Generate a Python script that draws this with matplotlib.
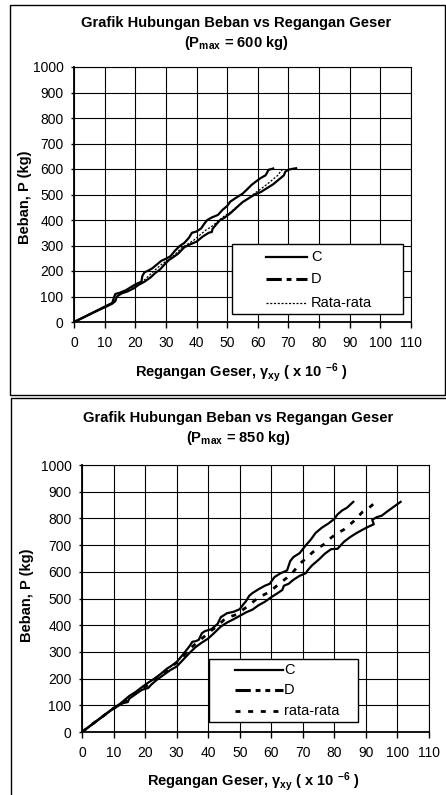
"""Grafik hubungan beban vs regangan geser untuk dua beban maksimum."""

import matplotlib
matplotlib.use("Agg")
import matplotlib.pyplot as plt
from matplotlib.patches import Rectangle

# Data: shear strain (x 10^-6) and load P (kg)

# Panel 1, Pmax = 600 kg
strain_c_600 = [0, 3, 6, 9, 11, 12.5, 13, 13.5, 15, 17, 19, 20.5, 22, 22.3,
                23, 24, 25.5, 27, 28.5, 30, 31.5, 33, 34.5, 36, 37.5, 38.5,
                40, 41.5, 42.5, 43.5, 45, 47, 48.5, 50, 51, 53, 55, 56.5, 58,
                59.5, 61, 62.5, 63, 63.5, 64.5, 65]
load_c_600 = [0, 18, 36, 54, 66, 75, 95, 110, 115, 125, 140, 150, 158, 180,
              195, 200, 210, 225, 240, 248, 258, 280, 298, 310, 330, 350,
              355, 367, 385, 400, 410, 420, 440, 455, 472, 488, 503, 520, 538,
              552, 565, 575, 585, 597, 600, 602]
strain_d_600 = [0, 3, 6, 9, 11, 12.5, 13.5, 14, 15.5, 17.5, 19.5, 21, 23, 25,
                26.5, 28, 29.5, 31, 32.5, 34, 36, 38, 40, 42, 44, 45, 45.2,
                47.5, 49, 51, 53, 55, 57, 59, 61, 63, 65, 66.5, 67.5, 68.5,
                69, 70, 71, 72.5]
load_d_600 = [0, 17, 35, 52, 63, 72, 82, 100, 112, 120, 132, 145, 158, 175,
              192, 205, 225, 243, 255, 268, 293, 305, 315, 335, 350, 353, 365,
              398, 408, 426, 448, 470, 485, 500, 510, 525, 540, 555, 565, 575,
              590, 597, 600, 603]
strain_avg_600 = [0, 3, 6, 9, 11, 12.5, 13.5, 15, 17, 19.5, 21, 23, 25, 27,
                  29, 31, 33, 35, 37, 39, 41, 43, 45, 47, 49, 51, 53, 55, 57,
                  59, 61, 63, 65, 66.5, 67.5, 68.5]
load_avg_600 = [0, 17, 35, 53, 65, 74, 90, 112, 122, 140, 150, 165, 188, 210,
                230, 245, 265, 290, 305, 320, 340, 360, 375, 395, 415, 430,
                450, 468, 485, 505, 522, 540, 560, 575, 592, 602]

# Panel 2, Pmax = 850 kg
strain_c_850 = [0, 5, 10, 12, 14, 15, 17, 19, 21, 23, 25, 27, 28, 30, 32, 34,
                35, 36, 37, 38, 39, 41, 43, 44, 46, 48, 50, 51, 52, 53, 54,
                56, 58, 59.5, 61, 63, 65, 66, 67, 69, 71, 72.5, 74, 76, 78,
                80, 81, 82.5, 84, 86]
load_c_850 = [0, 45, 90, 105, 125, 135, 150, 168, 185, 200, 218, 238, 245,
              262, 290, 320, 338, 340, 345, 370, 378, 385, 405, 430, 445, 450,
              460, 476, 490, 510, 520, 535, 548, 555, 580, 595, 605, 640, 655,
              670, 700, 720, 745, 765, 780, 798, 815, 830, 840, 862]
strain_d_850 = [0, 5, 10, 13, 14.5, 15, 17, 19, 21, 22, 24, 26, 28, 30, 32,
                34, 36, 38, 40, 42, 44, 46, 48, 50, 52, 54, 56, 58, 60, 62,
                63.5, 64, 65.5, 67, 69, 71, 71.5, 73, 75, 77, 79, 81, 83, 85,
                87, 89, 91, 92.5, 92, 93.5, 95, 97, 99, 101]
load_d_850 = [0, 44, 88, 108, 112, 125, 142, 158, 165, 178, 198, 215, 232,
              245, 270, 295, 318, 335, 350, 372, 395, 410, 422, 435, 448, 458,
              475, 488, 505, 520, 532, 548, 555, 570, 585, 595, 605, 625, 645,
              668, 685, 686, 712, 730, 745, 758, 770, 778, 795, 805, 810, 828,
              845, 862]
strain_avg_850 = [0, 5, 10, 13, 15, 17, 19, 21, 23, 25, 27, 29, 31, 33, 35,
                  37, 39, 41, 43, 45, 47, 49, 51, 53, 55, 57, 59, 61, 63, 65,
                  67, 69, 71, 73, 75, 77, 79, 81, 83, 86, 89, 91, 93]
load_avg_850 = [0, 45, 88, 110, 128, 145, 160, 178, 198, 215, 232, 250, 270,
                295, 320, 340, 360, 380, 398, 420, 432, 440, 458, 475, 495,
                510, 522, 540, 560, 578, 600, 630, 650, 672, 690, 705, 728,
                745, 758, 788, 825, 840, 860]

x_ticks = list(range(0, 111, 10))
y_ticks = list(range(0, 1001, 100))
title = "Grafik Hubungan Beban vs Regangan Geser"
ylabel = "Beban, P (kg)"
xlabel = r"Regangan Geser, $\mathbf{\gamma_{xy}}$ ( x 10 $^{\mathbf{-6}}$ )"

# Fonts: Arial look-alike, also for the math parts

plt.rcParams["font.family"] = "Liberation Sans"
plt.rcParams["mathtext.fontset"] = "custom"
plt.rcParams["mathtext.rm"] = "Liberation Sans"
plt.rcParams["mathtext.it"] = "Liberation Sans:italic"
plt.rcParams["mathtext.bf"] = "Liberation Sans:bold"
plt.rcParams["lines.scale_dashes"] = False

W, H = 446, 795


def fx(px):
    """Figure fraction from a pixel column."""
    return px / W


def fy(py):
    """Figure fraction from a pixel row (top = 0)."""
    return 1 - py / H


def draw_panel(fig, box, rect, texts, series, legend):
    """Draw one framed chart panel."""
    fig.add_artist(Rectangle((fx(box[0]), fy(box[3])),
                             fx(box[2] - box[0]), (box[3] - box[1]) / H,
                             transform=fig.transFigure, fill=False,
                             edgecolor="black", linewidth=1.0))
    ax = fig.add_axes(rect)
    for x, y, style in series:
        ax.plot(x, y, color="black", **style)

    ax.set_xlim(0, 110)
    ax.set_ylim(0, 1000)
    ax.set_xticks(x_ticks)
    ax.set_yticks(y_ticks)
    ax.grid(True, color="black", linewidth=0.8)
    ax.set_axisbelow(True)
    for side in ("top", "right"):
        ax.spines[side].set_linewidth(0.8)
    for side in ("left", "bottom"):
        ax.spines[side].set_linewidth(1.3)
    ax.tick_params(axis="x", direction="out", length=4, width=1,
                   labelsize=10, pad=6)
    ax.tick_params(axis="y", direction="out", length=2.5, width=1,
                   labelsize=10, pad=5)

    # Legend box, drawn like the spreadsheet one
    (x0, y0, x1, y1), hx0, hx1, tx, rows = legend
    ax.add_patch(Rectangle((x0, y0), x1 - x0, y1 - y0,
                           transform=ax.transAxes, facecolor="white",
                           edgecolor="black", linewidth=1.0, zorder=5))
    for ry, (label, style) in rows:
        ax.plot([hx0, hx1], [ry, ry], transform=ax.transAxes,
                color="black", zorder=6, clip_on=False, **style)
        ax.text(tx, ry, label, transform=ax.transAxes, fontsize=10.5,
                va="center", ha="left", zorder=6)

    # Titles and axis labels
    (tx1, ty1), (tx2, ty2), sub, (lx, ly), (yx, yy) = texts
    fig.text(fx(tx1), fy(ty1), title, ha="center", va="center",
             fontsize=10.6, fontweight="bold")
    fig.text(fx(tx2), fy(ty2), sub, ha="center", va="center",
             fontsize=10.6, fontweight="bold")
    fig.text(fx(lx), fy(ly), xlabel, ha="center", va="center",
             fontsize=10.5, fontweight="bold")
    fig.text(fx(yx), fy(yy), ylabel, ha="center", va="center",
             fontsize=10.5, fontweight="bold", rotation=90)
    return ax


fig = plt.figure(figsize=(W / 100, H / 100), dpi=100)

solid = dict(linestyle="-", linewidth=1.6)
dash_dot = dict(linestyle=(0, (11, 3.5, 3.5, 3.5)), linewidth=2.2)
dash_dot_dot = dict(linestyle=(0, (11, 3.5, 3.5, 3.5, 3.5, 3.5)),
                    linewidth=2.2)
dotted = dict(linestyle=(0, (1.5, 1.2)), linewidth=0.9)
dashed = dict(linestyle=(0, (3.6, 5.5)), linewidth=2.0)

# Panel 1 (Pmax = 600 kg)
draw_panel(
    fig,
    box=(10, 5, 445, 395),
    rect=[fx(74), fy(322), fx(337), 255 / H],
    texts=((236, 23), (236, 43), r"(P$_{\mathbf{max}}$ = 600 kg)",
           (241, 373), (25, 197)),
    series=[(strain_c_600, load_c_600, solid),
            (strain_d_600, load_d_600, solid),
            (strain_avg_600, load_avg_600, dotted)],
    legend=((0.469, 0.031, 0.976, 0.306), 0.570, 0.691, 0.703,
            [(0.255, ("C", solid)), (0.169, ("D", dash_dot)),
             (0.0745, ("Rata-rata", dotted))]),
)

# Panel 2 (Pmax = 850 kg)
draw_panel(
    fig,
    box=(11, 398, 460, 810),
    rect=[fx(82), fy(732), fx(347), 267 / H],
    texts=((238, 418), (238, 438), r"(P$_{\mathbf{max}}$ = 850 kg)",
           (253, 782), (27, 595)),
    series=[(strain_c_850, load_c_850, solid),
            (strain_d_850, load_d_850, solid),
            (strain_avg_850, load_avg_850, dashed)],
    legend=((0.366, 0.0375, 0.795, 0.273), 0.441, 0.578, 0.582,
            [(0.232, ("C", solid)), (0.157, ("D", dash_dot_dot)),
             (0.080, ("rata-rata", dashed))]),
)

fig.savefig("out.png", dpi=100)
